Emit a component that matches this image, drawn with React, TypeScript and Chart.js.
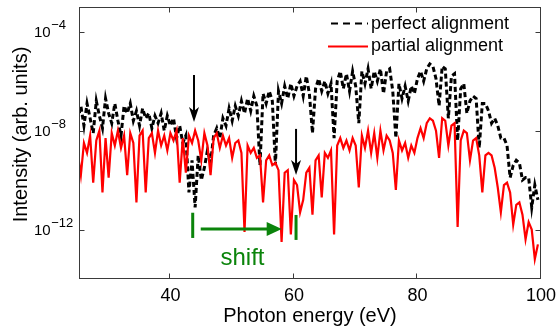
import React, { useEffect, useRef } from 'react';
import { Chart, registerables } from 'chart.js';

Chart.register(...registerables);

// Photon energy grid (eV)
const energy = [
  25, 25.5, 26, 26.5, 27, 27.5, 28, 28.5, 29, 29.5,
  30, 30.5, 31, 31.5, 32, 32.5, 33, 33.5, 34, 34.5,
  35, 35.5, 36, 36.5, 37, 37.5, 38, 38.5, 39, 39.5,
  40, 40.5, 41, 41.5, 42, 42.5, 43, 43.5, 44, 44.5,
  45, 45.5, 46, 46.5, 47, 47.5, 48, 48.5, 49, 49.5,
  50, 50.5, 51, 51.5, 52, 52.5, 53, 53.5, 54, 54.5,
  55, 55.5, 56, 56.5, 57, 57.5, 58, 58.5, 59, 59.5,
  60, 60.5, 61, 61.5, 62, 62.5, 63, 63.5, 64, 64.5,
  65, 65.5, 66, 66.5, 67, 67.5, 68, 68.5, 69, 69.5,
  70, 70.5, 71, 71.5, 72, 72.5, 73, 73.5, 74, 74.5,
  75, 75.5, 76, 76.5, 77, 77.5, 78, 78.5, 79, 79.5,
  80, 80.5, 81, 81.5, 82, 82.5, 83, 83.5, 84, 84.5,
  85, 85.5, 86, 86.5, 87, 87.5, 88, 88.5, 89, 89.5,
  90, 90.5, 91, 91.5, 92, 92.5, 93, 93.5, 94, 94.5,
  95, 95.5, 96, 96.5, 97, 97.5, 98, 98.5, 99, 99.5,
  100,
];

// log10 of intensity, perfect alignment
const perfectLog = [
  -7.6, -7.0, -7.8, -6.9, -7.5, -8.1, -6.8, -7.4, -7.9, -6.7,
  -7.3, -7.7, -6.9, -7.6, -8.2, -7.0, -7.3, -6.9, -7.6, -7.2,
  -7.8, -7.1, -7.5, -7.3, -7.9, -7.4, -7.7, -7.3, -8.0, -7.4,
  -7.8, -7.5, -8.3, -7.8, -8.5, -8.2, -10.5, -9.2, -11.1, -9.0,
  -10.0, -9.5, -8.8, -9.3, -8.2, -7.9, -8.3, -7.5, -7.8, -7.1,
  -7.6, -7.0, -7.4, -6.8, -7.3, -6.7, -7.2, -6.6, -7.0, -9.4,
  -6.5, -6.9, -6.4, -6.8, -9.4, -6.4, -6.9, -6.2, -6.7, -6.1,
  -6.6, -6.2, -6.0, -6.6, -5.8, -6.5, -8.1, -6.3, -5.9, -6.4,
  -6.0, -6.5, -6.1, -8.3, -6.0, -5.6, -6.3, -5.7, -6.4, -5.6,
  -6.2, -7.7, -5.6, -6.1, -5.5, -6.3, -5.6, -6.0, -5.5, -6.5,
  -5.6, -5.5, -6.4, -8.3, -6.1, -6.7, -6.2, -6.8, -6.2, -6.5,
  -5.9, -5.6, -6.0, -5.5, -5.3, -5.4, -5.9, -7.0, -5.4, -5.5,
  -7.5, -5.8, -5.7, -8.4, -6.3, -6.1, -7.3, -6.8, -6.6, -6.7,
  -8.7, -6.9, -6.9, -7.2, -7.7, -7.5, -7.8, -8.3, -8.3, -8.6,
  -9.9, -9.4, -9.2, -9.3, -10.0, -9.9, -9.9, -11.1, -10.2, -10.8,
  null,
];

// log10 of intensity, partial alignment
const partialLog = [
  -8.9, -9.8, -8.5, -8.9, -8.2, -10.1, -8.4, -8.0, -10.5, -8.3,
  -9.9, -8.1, -8.6, -8.0, -8.7, -8.2, -9.8, -8.1, -8.5, -10.9,
  -8.2, -8.0, -10.5, -8.3, -8.1, -8.9, -8.0, -8.6, -8.2, -8.8,
  -8.1, -8.4, -8.0, -10.1, -8.3, -9.7, -8.2, -8.5, -8.0, -8.4,
  -9.2, -8.1, -8.6, -9.8, -8.3, -8.1, -8.7, -8.2, -8.6, -8.3,
  -9.1, -8.5, -8.4, -8.9, -12.1, -8.6, -8.9, -8.7, -9.1, -9.0,
  -10.9, -9.2, -9.0, -9.4, -9.3, -9.6, -12.5, -9.7, -9.6, -12.2,
  -10.0, -10.2, -11.3, -10.8, -9.7, -9.5, -11.4, -9.2, -9.0, -10.7,
  -8.9, -9.1, -8.8, -12.2, -8.6, -8.3, -8.7, -8.4, -8.8, -8.3,
  -8.6, -10.3, -8.2, -8.7, -8.0, -8.9, -8.1, -9.1, -8.0, -8.8,
  -8.2, -8.4, -8.9, -10.4, -8.4, -8.8, -8.5, -9.1, -8.6, -8.9,
  -8.3, -7.9, -8.3, -7.7, -7.5, -7.6, -8.0, -9.1, -7.5, -7.6,
  -8.6, -7.8, -7.7, -11.9, -8.4, -8.0, -8.1, -9.2, -8.4, -8.3,
  -9.0, -10.5, -9.0, -8.9, -9.0, -9.5, -10.3, -11.3, -10.2, -10.1,
  -10.5, -11.8, -11.0, -10.9, -11.4, -12.4, -11.7, -12.0, -13.2, -12.6,
  null,
];

const seriesNames = ['perfect alignment', 'partial alignment'];
const xTickValues = [40, 60, 80, 100];
const yTickExponents = [-4, -8, -12];
const xTitle = 'Photon energy (eV)';
const yTitle = 'Intensity (arb. units)';
const shiftLabel = 'shift';

// annotations (data coordinates: eV, log10 intensity)
const downArrows = [
  { x: 43.82, from: -5.75, to: -7.65 },
  { x: 60.34, from: -7.93, to: -9.79 },
];
const shiftBars = [
  { x: 43.61, from: -11.32, to: -12.34 },
  { x: 60.34, from: -11.41, to: -12.42 },
];
const shiftArrow = { from: 44.91, to: 58.02, y: -11.98 };
const shiftText = { x: 51.67, y: -13.43 };

const FONT = '"Liberation Sans", Arial, Helvetica, sans-serif';
const GREEN = '#0b840b';

export default function App() {
  const ref = useRef<HTMLCanvasElement>(null);

  useEffect(() => {
    if (!ref.current) return;
    const toPts = (vals: (number | null)[]) =>
      energy.map((e, i) => ({ x: e, y: vals[i] == null ? null : Math.pow(10, vals[i] as number) }));

    const overlay = {
      id: 'overlay',
      afterDraw(chart: any) {
        const ctx = chart.ctx as CanvasRenderingContext2D;
        const { left, right, top, bottom } = chart.chartArea;
        const xs = chart.scales.x;
        const ys = chart.scales.y;
        const px = (v: number) => xs.getPixelForValue(v);
        const py = (e: number) => ys.getPixelForValue(Math.pow(10, e));
        ctx.save();

        // black arrows
        ctx.strokeStyle = '#000';
        ctx.fillStyle = '#000';
        for (const a of downArrows) {
          const x = px(a.x);
          const y0 = py(a.from);
          const y1 = py(a.to);
          ctx.lineWidth = 2;
          ctx.beginPath();
          ctx.moveTo(x, y0);
          ctx.lineTo(x, y1 - 10);
          ctx.stroke();
          ctx.beginPath();
          ctx.moveTo(x - 5, y1 - 15);
          ctx.lineTo(x, y1 - 11);
          ctx.lineTo(x + 5, y1 - 15);
          ctx.lineTo(x, y1);
          ctx.closePath();
          ctx.fill();
        }
        // green shift
        ctx.strokeStyle = GREEN;
        ctx.fillStyle = GREEN;
        ctx.lineWidth = 3;
        for (const b of shiftBars) {
          const x = px(b.x);
          ctx.beginPath();
          ctx.moveTo(x, py(b.from));
          ctx.lineTo(x, py(b.to));
          ctx.stroke();
        }
        {
          const x0 = px(shiftArrow.from);
          const x1 = px(shiftArrow.to);
          const y = py(shiftArrow.y);
          ctx.beginPath();
          ctx.moveTo(x0, y);
          ctx.lineTo(x1 - 12, y);
          ctx.stroke();
          ctx.beginPath();
          ctx.moveTo(x1 - 15, y - 7);
          ctx.lineTo(x1, y);
          ctx.lineTo(x1 - 15, y + 7);
          ctx.closePath();
          ctx.fill();
        }
        ctx.font = `24px ${FONT}`;
        ctx.textAlign = 'center';
        ctx.textBaseline = 'alphabetic';
        ctx.fillText(shiftLabel, px(shiftText.x), py(shiftText.y));

        // box
        ctx.strokeStyle = '#3a3a3a';
        ctx.lineWidth = 1;
        const L = Math.round(left) + 0.5;
        const R = Math.round(right) - 0.5;
        const T = Math.round(top) + 0.5;
        const B = Math.round(bottom) - 0.5;
        ctx.strokeRect(L, T, R - L, B - T);
        const tl = 5;
        ctx.beginPath();
        for (const v of xTickValues) {
          const x = Math.round(px(v)) - 0.5;
          ctx.moveTo(x, B);
          ctx.lineTo(x, B - tl);
          ctx.moveTo(x, T);
          ctx.lineTo(x, T + tl);
        }
        for (const e of yTickExponents) {
          const y = Math.round(py(e)) + 0.5;
          ctx.moveTo(L, y);
          ctx.lineTo(L + tl, y);
          ctx.moveTo(R, y);
          ctx.lineTo(R - tl, y);
        }
        ctx.stroke();

        // y tick labels
        ctx.fillStyle = '#000';
        ctx.textAlign = 'left';
        ctx.textBaseline = 'alphabetic';
        for (const e of yTickExponents) {
          const y = py(e);
          ctx.font = `15px ${FONT}`;
          ctx.fillText('10', 34, y + 5);
          const w = ctx.measureText('10').width;
          ctx.font = `13px ${FONT}`;
          ctx.fillText('\u2212' + Math.abs(e), 34 + w + 0.5, y - 3);
        }
        // x tick labels
        ctx.font = `18px ${FONT}`;
        ctx.textAlign = 'center';
        for (const v of xTickValues) {
          ctx.fillText(String(v), px(v), 300.5);
        }
        // axis titles
        ctx.font = `20px ${FONT}`;
        ctx.fillText(xTitle, (left + right) / 2, 321.5);
        ctx.save();
        ctx.translate(27, 134.5);
        ctx.rotate(-Math.PI / 2);
        ctx.textAlign = 'center';
        ctx.fillText(yTitle, 0, 0);
        ctx.restore();

        // legend
        ctx.font = `18px ${FONT}`;
        ctx.textAlign = 'left';
        ctx.lineWidth = 1.8;
        ctx.strokeStyle = '#000';
        ctx.setLineDash([7, 5]);
        ctx.beginPath();
        ctx.moveTo(331, 23.5);
        ctx.lineTo(368, 23.5);
        ctx.stroke();
        ctx.setLineDash([]);
        ctx.fillText(seriesNames[0], 371, 28.5);
        ctx.strokeStyle = '#ff0000';
        ctx.beginPath();
        ctx.moveTo(328, 46.5);
        ctx.lineTo(368, 46.5);
        ctx.stroke();
        ctx.fillText(seriesNames[1], 371, 51);

        ctx.restore();
      },
    };

    const chart = new Chart(ref.current, {
      type: 'line',
      data: {
        datasets: [
          {
            label: seriesNames[0],
            data: toPts(perfectLog) as any,
            borderColor: '#000000',
            borderWidth: 3,
            borderDash: [5, 3],
            pointRadius: 0,
            tension: 0,
            fill: false,
            order: 1,
          },
          {
            label: seriesNames[1],
            data: toPts(partialLog) as any,
            borderColor: '#ff0000',
            borderWidth: 2.2,
            pointRadius: 0,
            tension: 0,
            fill: false,
            order: 0,
          },
        ],
      },
      options: {
        responsive: false,
        animation: false,
        layout: { padding: { left: 79, right: 17, top: 7, bottom: 47 } },
        plugins: { legend: { display: false }, tooltip: { enabled: false } },
        scales: {
          x: { type: 'linear', min: 25.2, max: 100, display: false },
          y: { type: 'logarithmic', min: 1e-14, max: 1e-3, display: false },
        },
      },
      plugins: [overlay],
    });
    return () => chart.destroy();
  }, []);

  return (
    <div style={{ position: 'fixed', left: 0, top: 0, width: 558, height: 326, background: '#fff' }}>
      <canvas ref={ref} width={558} height={326} style={{ display: 'block', width: 558, height: 326 }} />
    </div>
  );
}
